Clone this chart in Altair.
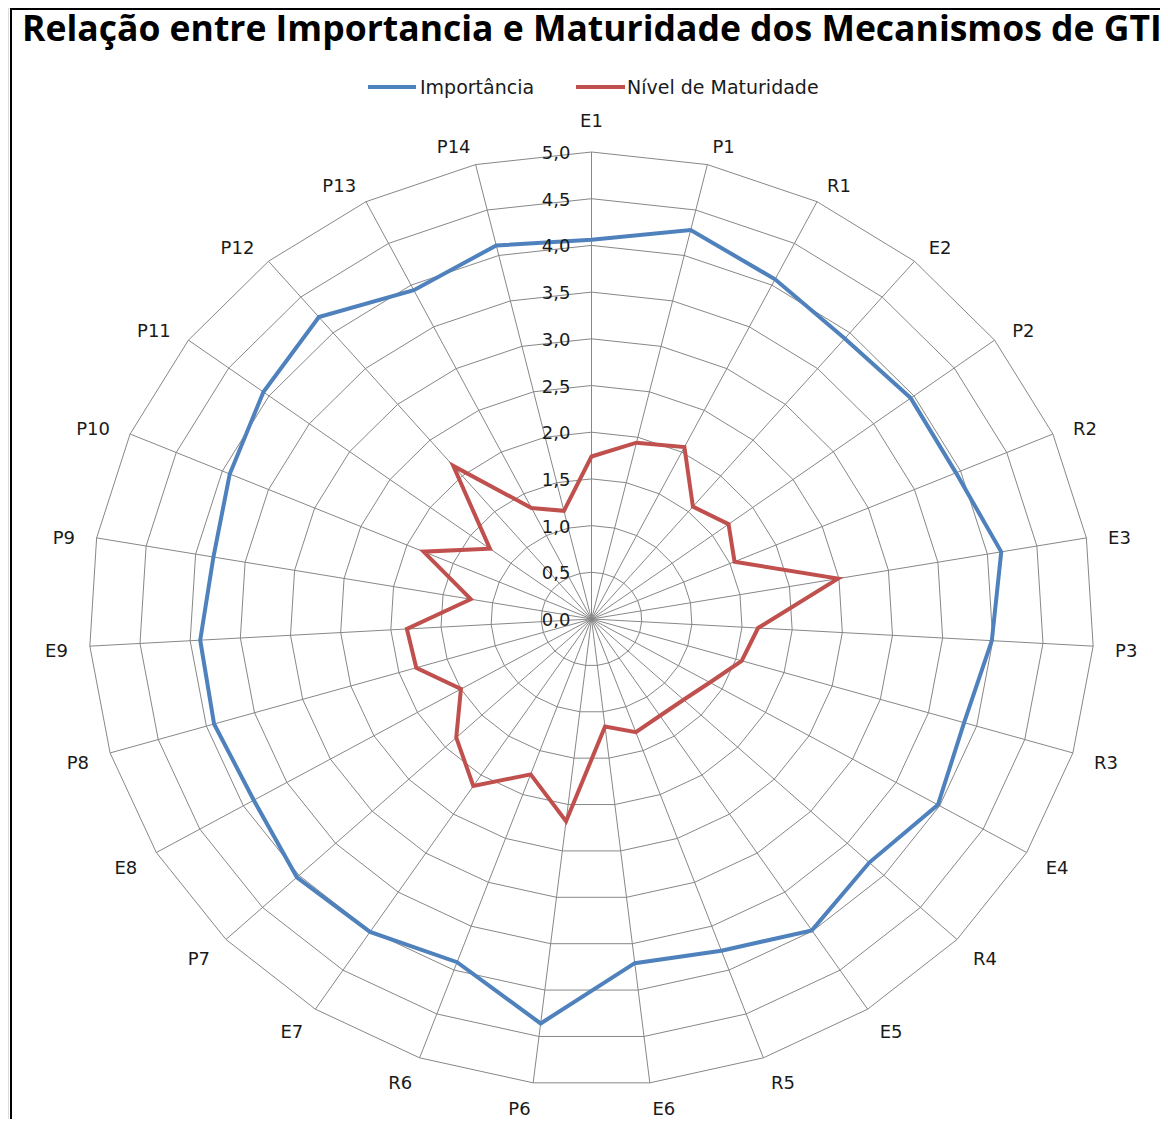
import altair as alt
import pandas as pd

# ---------------- data ----------------
categories = ["E1", "P1", "R1", "E2", "P2", "R2", "E3", "P3", "R3", "E4", "R4", "E5",
              "R5", "E6", "P6", "R6", "E7", "P7", "E8", "P8", "E9", "P9", "P10", "P11",
              "P12", "P13", "P14"]
importancia = [4.06, 4.28, 4.07, 3.92, 3.96, 3.95, 4.14, 3.99, 3.87, 3.98, 3.80, 3.99,
               3.78, 3.71, 4.36, 3.91, 4.01, 4.03, 3.88, 3.92, 3.90, 3.82, 3.92, 4.07,
               4.22, 3.94, 4.11]
maturidade = [1.74, 1.94, 2.06, 1.57, 1.70, 1.55, 2.49, 1.66, 1.56, 1.36, 1.26, 1.24,
              1.29, 1.16, 2.18, 1.77, 2.14, 1.85, 1.50, 1.82, 1.84, 1.22, 1.82, 1.26,
              2.14, 1.33, 1.19]
series_names = ["Importância", "Nível de Maturidade"]
series_colors = ["#4F81BD", "#C0504D"]
ring_levels = [0.5, 1.0, 1.5, 2.0, 2.5, 3.0, 3.5, 4.0, 4.5, 5.0]
tick_values = [0.0, 0.5, 1.0, 1.5, 2.0, 2.5, 3.0, 3.5, 4.0, 4.5, 5.0]
tick_labels = ["0,0", "0,5", "1,0", "1,5", "2,0", "2,5", "3,0", "3,5", "4,0", "4,5", "5,0"]
title_text = "Relação entre Importancia e Maturidade dos Mecanismos de GTI"

N = len(categories)
R_MAX = 5.0

# ---------------- tables ----------------
series_df = pd.DataFrame({
    "cat": categories * 2,
    "idx": list(range(N)) * 2,
    "series": [series_names[0]] * N + [series_names[1]] * N,
    "r": importancia + maturidade,
})
ring_df = pd.DataFrame([{"level": lv, "idx": i, "r": lv} for lv in ring_levels for i in range(N)])
spoke_df = pd.DataFrame({"idx": list(range(N)), "r": [R_MAX] * N})
label_df = pd.DataFrame({"cat": categories, "idx": list(range(N)), "r": [R_MAX] * N})
tick_df = pd.DataFrame({"v": tick_values, "label": tick_labels})

# ---------------- scales ----------------
W, H = 1152, 1111
PX_X = 100.5   # pixels per unit horizontally
PX_Y = 93.4    # pixels per unit vertically
xs = alt.Scale(domain=[-583.5 / PX_X, (W - 583.5) / PX_X], nice=False, zero=False)
ys = alt.Scale(domain=[-(H - 611) / PX_Y, 611 / PX_Y], nice=False, zero=False)


def polar(ch):
    return ch.transform_calculate(
        theta=f"datum.idx * 2 * PI / {N}"
    ).transform_calculate(
        px="datum.r * sin(datum.theta)",
        py="datum.r * cos(datum.theta)",
        zero="0",
    )


X = alt.X("px:Q", scale=xs, axis=None)
Y = alt.Y("py:Q", scale=ys, axis=None)

grid_color = "#878787"
text_color = "#1a1a1a"

rings = polar(alt.Chart(ring_df)).mark_line(
    interpolate="linear-closed", color=grid_color, strokeWidth=1
).encode(x=X, y=Y, detail="level:N", order="idx:Q")

spokes = polar(alt.Chart(spoke_df)).mark_rule(color=grid_color, strokeWidth=1).encode(
    x=alt.X("zero:Q", scale=xs, axis=None),
    y=alt.Y("zero:Q", scale=ys, axis=None),
    x2="px:Q",
    y2="py:Q",
)

lines = polar(alt.Chart(series_df)).mark_line(
    interpolate="linear-closed", strokeWidth=4
).encode(
    x=X,
    y=Y,
    color=alt.Color("series:N", scale=alt.Scale(domain=series_names, range=series_colors), legend=None),
    order="idx:Q",
)

# category labels: placed outside the outer ring, anchored like Excel does
GAP = 22
label_base = polar(alt.Chart(label_df)).transform_calculate(
    lx=f"datum.px + {GAP / PX_X} * sin(datum.theta)",
    ly=f"datum.py + {GAP / PX_Y} * cos(datum.theta) - {5 / PX_Y}",
    ly_top=f"datum.py + {30 / PX_Y}",
)
LX = alt.X("lx:Q", scale=xs, axis=None)
lbl_kw = dict(font="DejaVu Sans", fontSize=18, color=text_color, baseline="middle")
lab_top = label_base.transform_filter("datum.idx == 0").mark_text(align="center", **lbl_kw).encode(
    x=LX, y=alt.Y("ly_top:Q", scale=ys, axis=None), text="cat:N")
lab_right = label_base.transform_filter(f"datum.idx > 0 && datum.idx <= {N // 2}").mark_text(
    align="left", **lbl_kw).encode(x=LX, y=alt.Y("ly:Q", scale=ys, axis=None), text="cat:N")
lab_left = label_base.transform_filter(f"datum.idx > {N // 2}").mark_text(
    align="right", **lbl_kw).encode(x=LX, y=alt.Y("ly:Q", scale=ys, axis=None), text="cat:N")

ticks = alt.Chart(tick_df).transform_calculate(zero="0").mark_text(
    font="DejaVu Sans", fontSize=18, color=text_color, align="right", baseline="middle", dx=-21, dy=2
).encode(
    x=alt.X("zero:Q", scale=xs, axis=None),
    y=alt.Y("v:Q", scale=ys, axis=None),
    text="label:N",
)

# ---------------- title, legend, frame ----------------
title = alt.Chart(pd.DataFrame({"t": [title_text]})).mark_text(
    font="Open Sans", fontWeight="bold", fontSize=35.5, color="#000000", align="left", baseline="alphabetic"
).encode(x=alt.value(14), y=alt.value(33), text="t:N")

leg_layers = []
leg_pos = [(360, 408, 412), (568, 617, 619)]
for name, col, (x1, x2, xt) in zip(series_names, series_colors, leg_pos):
    d = pd.DataFrame({"s": [name]})
    leg_layers.append(
        alt.Chart(d).mark_rule(color=col, strokeWidth=4).encode(
            x=alt.value(x1), x2=alt.value(x2), y=alt.value(79)
        )
    )
    leg_layers.append(
        alt.Chart(d).mark_text(
            font="DejaVu Sans", fontSize=19, color=text_color, align="left", baseline="middle"
        ).encode(x=alt.value(xt), y=alt.value(80), text="s:N")
    )

frame_df = pd.DataFrame({"f": [1]})
frame_top = alt.Chart(frame_df).mark_rule(color="#000000", strokeWidth=2).encode(
    x=alt.value(3), x2=alt.value(W), y=alt.value(1)
)
frame_left = alt.Chart(frame_df).mark_rule(color="#000000", strokeWidth=2).encode(
    x=alt.value(3), y=alt.value(0), y2=alt.value(H)
)

chart = alt.layer(
    rings, spokes, lines, lab_top, lab_right, lab_left, ticks, title, *leg_layers,
    frame_top, frame_left
).properties(
    width=W, height=H, padding=0,
    autosize=alt.AutoSizeParams(type="none"),
).configure_view(stroke=None).configure(background="white")

chart.save("out.html", embed_options={"renderer": "svg", "actions": False})
